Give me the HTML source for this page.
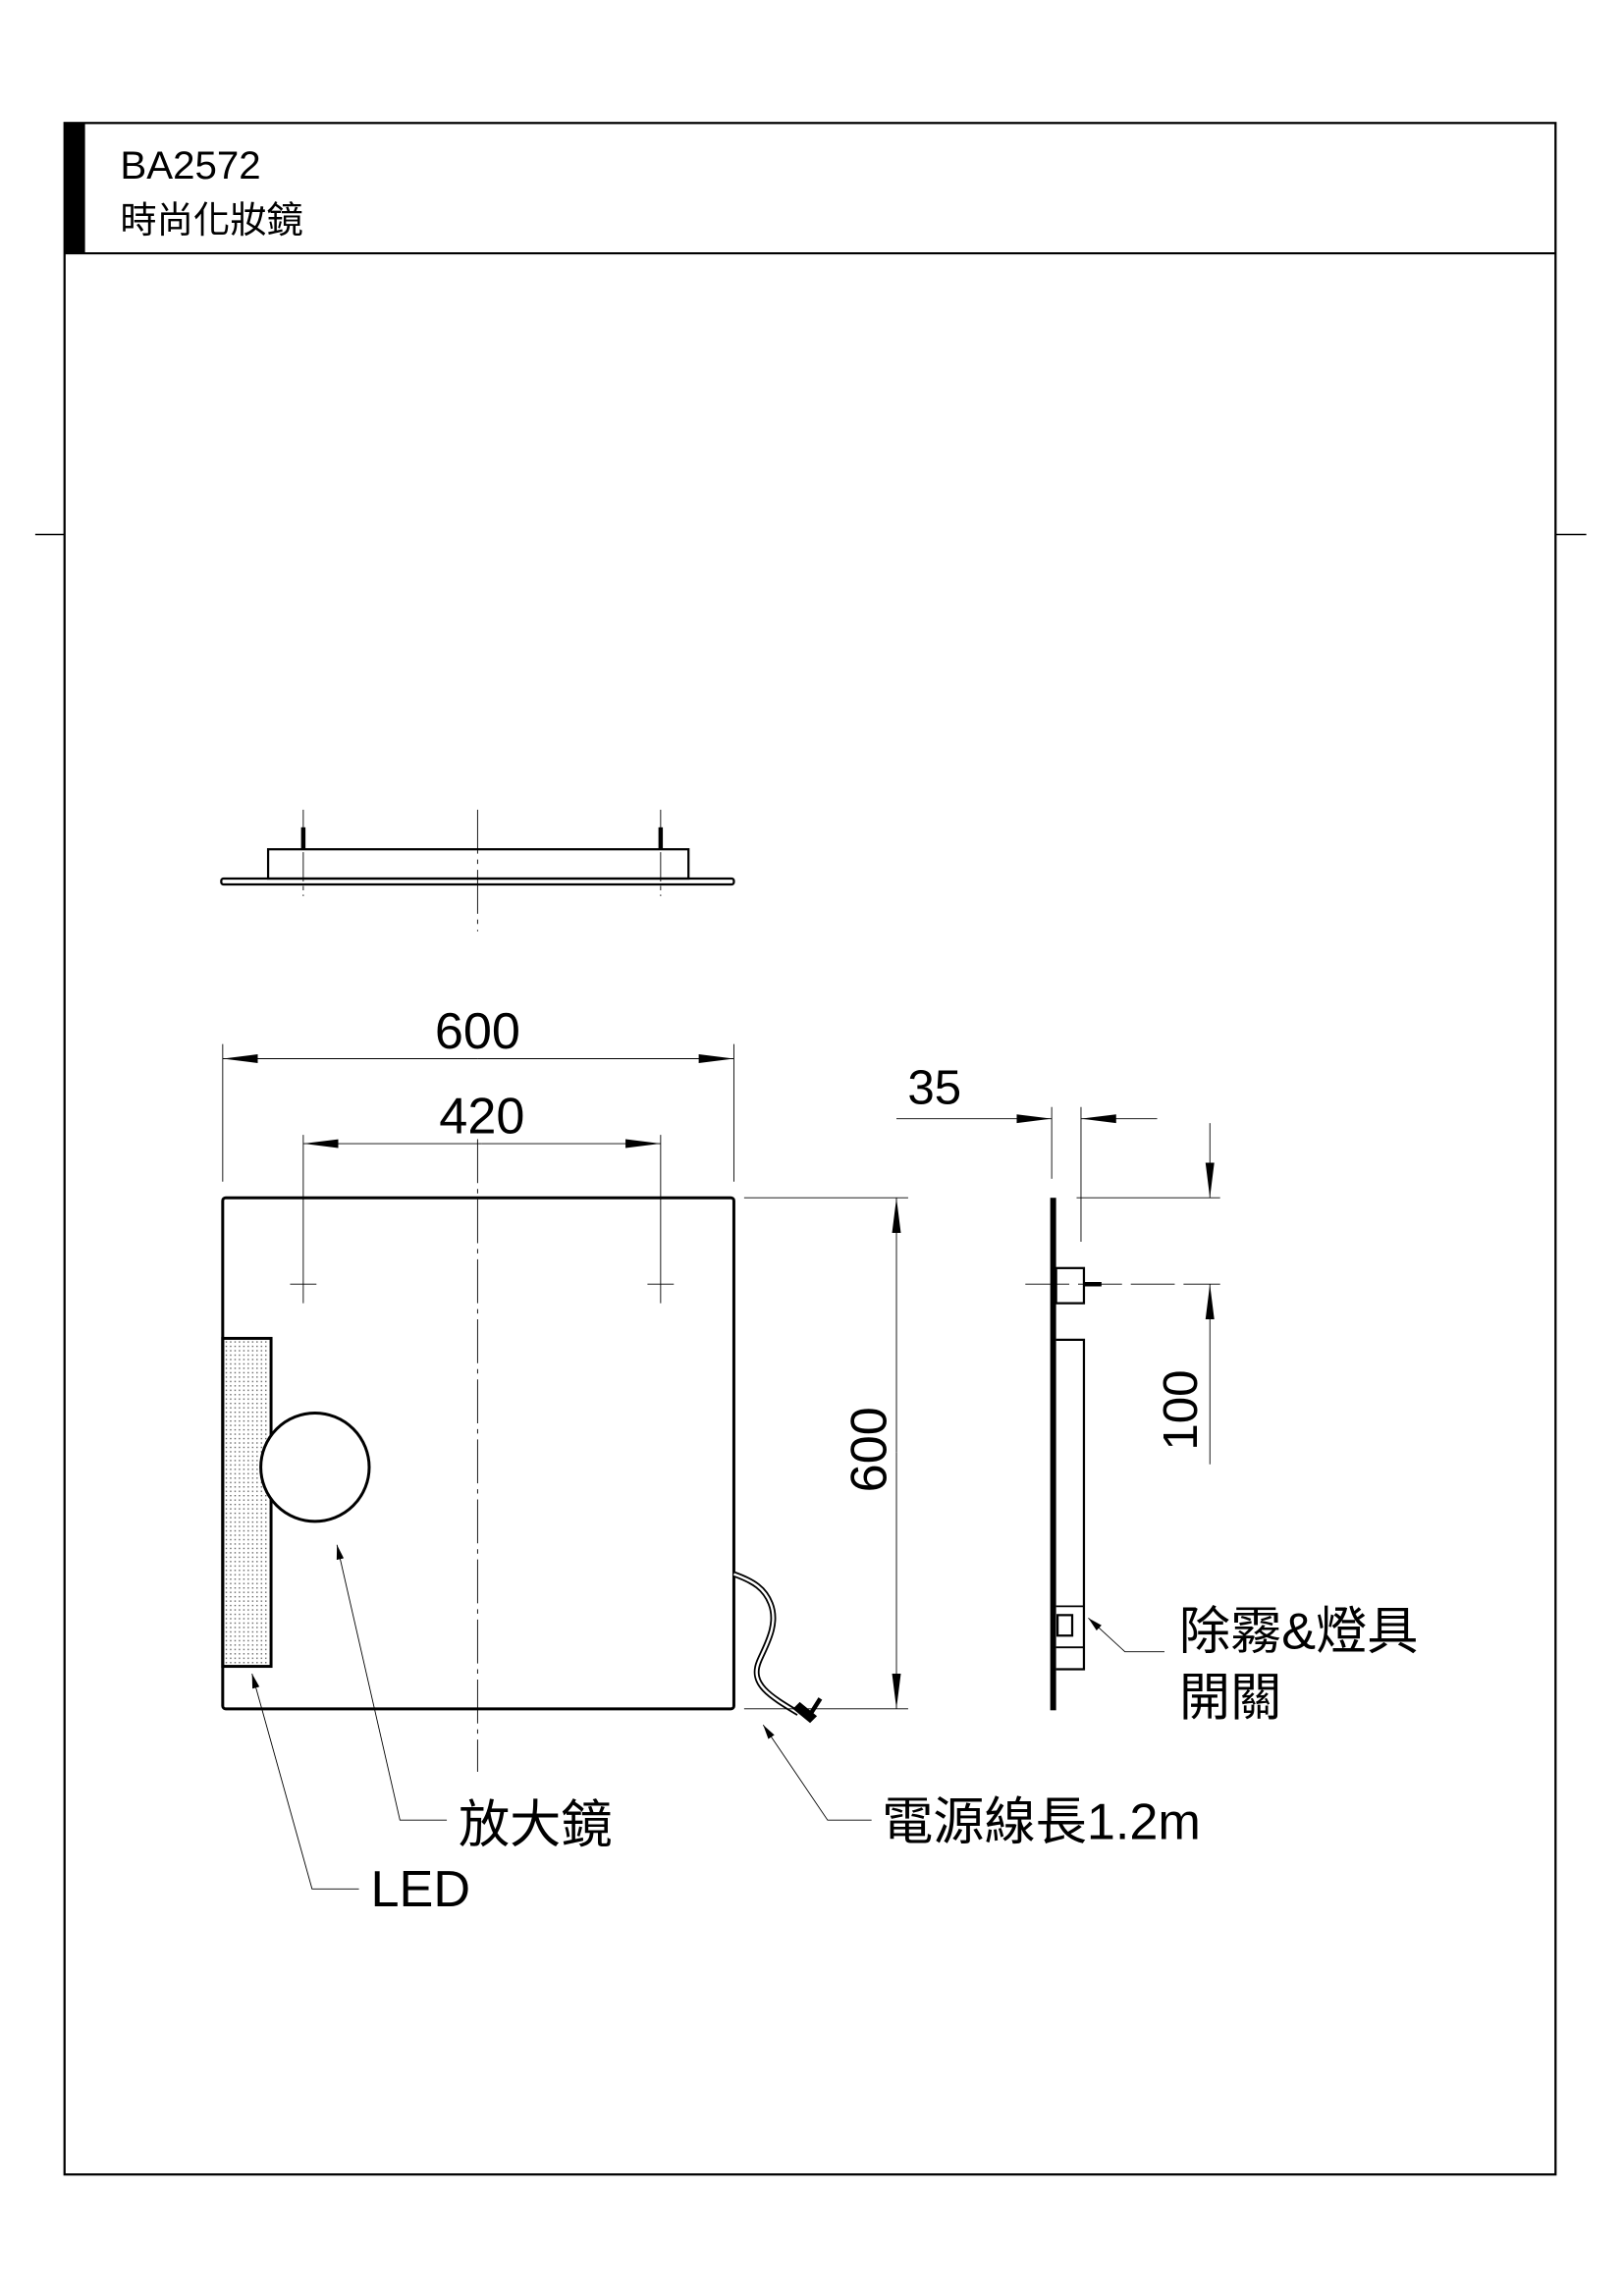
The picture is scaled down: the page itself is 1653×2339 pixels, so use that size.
<!DOCTYPE html>
<html><head><meta charset="utf-8"><style>
html,body{margin:0;padding:0;background:#fff}
svg{display:block}
text{font-family:"Liberation Sans","Noto Sans CJK TC",sans-serif;fill:#000}
</style></head><body>
<svg width="1653" height="2339" viewBox="0 0 1108 1568" xmlns="http://www.w3.org/2000/svg">
<defs>
<pattern id="dots" width="3" height="3" patternUnits="userSpaceOnUse"><rect x="1" y="1" width="0.9" height="0.9" fill="#555"/></pattern>
<marker id="ar" markerWidth="24" markerHeight="8" refX="24" refY="4" orient="auto" markerUnits="userSpaceOnUse"><path d="M0,1 L24,4 L0,7 Z" fill="#000"/></marker>
<marker id="sa" markerWidth="10" markerHeight="6" refX="10" refY="3" orient="auto" markerUnits="userSpaceOnUse"><path d="M0,0.5 L10,3 L0,5.5 Z" fill="#000"/></marker>
</defs>
<g fill="none" stroke="#000">
<rect x="44" y="84" width="1018" height="1401" stroke-width="1.5"/>
<line x1="44" y1="173" x2="1062" y2="173" stroke-width="1.5"/>
<line x1="24" y1="365" x2="44" y2="365" stroke-width="1"/>
<line x1="1062" y1="365" x2="1083" y2="365" stroke-width="1"/>
</g>
<rect x="44" y="84" width="14" height="89" fill="#000"/>
<text x="82" y="122" font-size="27">BA2572</text>
<text x="82" y="159" font-size="25">時尚化妝鏡</text>

<g fill="none" stroke="#000">
<rect x="151" y="600" width="350" height="4" stroke-width="1.5" rx="1.5"/>
<rect x="183" y="580" width="287" height="20" stroke-width="1.5"/>
<line x1="207" y1="565" x2="207" y2="580" stroke-width="3"/>
<line x1="451" y1="565" x2="451" y2="580" stroke-width="3"/>
<line x1="207" y1="553" x2="207" y2="612" stroke-width="0.6" stroke-dasharray="20,3,3,3"/>
<line x1="451" y1="553" x2="451" y2="612" stroke-width="0.6" stroke-dasharray="20,3,3,3"/>
<line x1="326" y1="553" x2="326" y2="636" stroke-width="0.6" stroke-dasharray="30,4,3,4"/>

<line x1="152" y1="713" x2="152" y2="807" stroke-width="0.6"/>
<line x1="501" y1="713" x2="501" y2="807" stroke-width="0.6"/>
<line x1="326" y1="723" x2="152" y2="723" stroke-width="0.6" marker-end="url(#ar)"/>
<line x1="326" y1="723" x2="501" y2="723" stroke-width="0.6" marker-end="url(#ar)"/>
<line x1="207" y1="775" x2="207" y2="890" stroke-width="0.6"/>
<line x1="451" y1="775" x2="451" y2="890" stroke-width="0.6"/>
<line x1="329" y1="781" x2="207" y2="781" stroke-width="0.6" marker-end="url(#ar)"/>
<line x1="329" y1="781" x2="451" y2="781" stroke-width="0.6" marker-end="url(#ar)"/>

<rect x="152" y="818" width="349" height="349" rx="2" stroke-width="2"/>
<line x1="326" y1="778" x2="326" y2="1210" stroke-width="0.6" stroke-dasharray="30,4,3,4"/>
<line x1="198" y1="877" x2="216" y2="877" stroke-width="0.6"/>
<line x1="442" y1="877" x2="460" y2="877" stroke-width="0.6"/>
<rect x="152" y="914" width="33" height="224" fill="url(#dots)" stroke-width="2"/>
<ellipse cx="215" cy="1002" rx="37" ry="37" fill="#fff" stroke-width="2"/>
<path d="M501,1075 C515,1080 522,1085 526,1095 C532,1110 522,1125 518,1135 C512,1150 525,1158 545,1170" stroke-width="4"/>
<path d="M501,1075 C515,1080 522,1085 526,1095 C532,1110 522,1125 518,1135 C512,1150 525,1158 545,1170" stroke="#fff" stroke-width="1.6"/>
<path d="M542,1167 L553,1176 L557,1172 L546,1163 Z" fill="#000" stroke-width="1"/>
<path d="M553,1171 L560,1160" stroke-width="3"/>

<line x1="508" y1="818" x2="620" y2="818" stroke-width="0.6"/>
<line x1="508" y1="1167" x2="620" y2="1167" stroke-width="0.6"/>
<line x1="612" y1="992" x2="612" y2="818" stroke-width="0.6" marker-end="url(#ar)"/>
<line x1="612" y1="992" x2="612" y2="1167" stroke-width="0.6" marker-end="url(#ar)"/>

<rect x="717" y="818" width="4" height="350" fill="#000" stroke="none"/>
<rect x="721" y="866" width="19" height="24" stroke-width="1.5"/>
<line x1="740" y1="877" x2="752" y2="877" stroke-width="3"/>
<path d="M721,915 L740,915 L740,1140 L721,1140" stroke-width="1.5"/>
<path d="M721,1097 L740,1097 L740,1125 L721,1125" stroke-width="1.2"/>
<rect x="722" y="1103" width="10" height="14" stroke-width="1.5"/>
<line x1="700" y1="877" x2="833" y2="877" stroke-width="0.6" stroke-dasharray="30,6"/>
<line x1="735" y1="818" x2="833" y2="818" stroke-width="0.6"/>

<line x1="718" y1="756" x2="718" y2="805" stroke-width="0.6"/>
<line x1="738" y1="756" x2="738" y2="848" stroke-width="0.6"/>
<line x1="612" y1="764" x2="718" y2="764" stroke-width="0.6" marker-end="url(#ar)"/>
<line x1="790" y1="764" x2="738" y2="764" stroke-width="0.6" marker-end="url(#ar)"/>
<line x1="826" y1="767" x2="826" y2="818" stroke-width="0.6" marker-end="url(#ar)"/>
<line x1="826" y1="1000" x2="826" y2="877" stroke-width="0.6" marker-end="url(#ar)"/>

<polyline points="795,1128 768,1128 743,1105" stroke-width="0.6" marker-end="url(#sa)"/>
<polyline points="305,1243 273,1243 230,1055" stroke-width="0.6" marker-end="url(#sa)"/>
<polyline points="245,1290 213,1290 172,1143" stroke-width="0.6" marker-end="url(#sa)"/>
<polyline points="595,1243 565,1243 521,1178" stroke-width="0.6" marker-end="url(#sa)"/>
</g>

<text x="326" y="716" font-size="35" text-anchor="middle">600</text>
<text x="329" y="774" font-size="35" text-anchor="middle">420</text>
<text x="638" y="754" font-size="33" text-anchor="middle">35</text>
<text transform="translate(605,990) rotate(-90)" font-size="35" text-anchor="middle">600</text>
<text transform="translate(817,963) rotate(-90)" font-size="33" text-anchor="middle">100</text>
<text x="805" y="1126" font-size="35">除霧&amp;燈具</text>
<text x="805" y="1171" font-size="35">開關</text>
<text x="313" y="1258" font-size="35">放大鏡</text>
<text x="253" y="1302" font-size="35">LED</text>
<text x="602" y="1256" font-size="35">電源線長1.2m</text>
</svg>
</body></html>
